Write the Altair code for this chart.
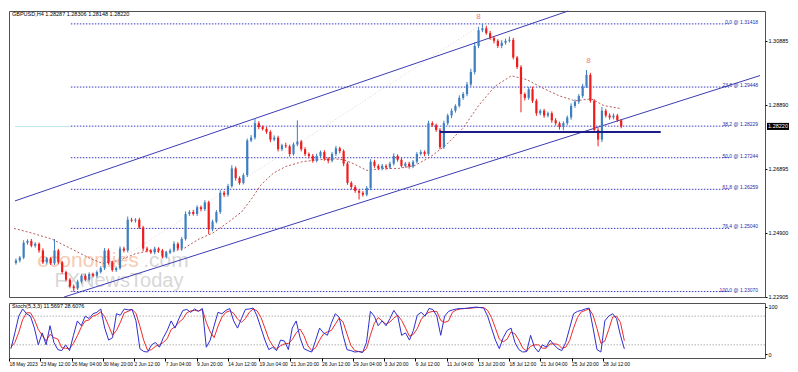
import json
import altair as alt
import pandas as pd

# ---------------- data ----------------
closes = [1.2404, 1.2413, 1.2459, 1.2465, 1.2450, 1.2456, 1.2435, 1.2398, 1.2410, 1.2395,
          1.2435, 1.2398, 1.2368, 1.2344, 1.2323, 1.2317, 1.2338, 1.2356, 1.2344, 1.2362,
          1.2356, 1.2368, 1.2380, 1.2435, 1.2398, 1.2374, 1.2380, 1.2441, 1.2435, 1.2531,
          1.2528, 1.2531, 1.2507, 1.2441, 1.2435, 1.2429, 1.2441, 1.2435, 1.2416, 1.2429,
          1.2435, 1.2456, 1.2441, 1.2471, 1.2549, 1.2555, 1.2549, 1.2570, 1.2564, 1.2585,
          1.2501, 1.2525, 1.2555, 1.2615, 1.2609, 1.2636, 1.2691, 1.2661, 1.2646, 1.2670,
          1.2778, 1.2787, 1.2832, 1.2820, 1.2814, 1.2805, 1.2781, 1.2787, 1.2751, 1.2763,
          1.2760, 1.2736, 1.2766, 1.2775, 1.2751, 1.2736, 1.2730, 1.2715, 1.2730, 1.2742,
          1.2721, 1.2715, 1.2736, 1.2754, 1.2745, 1.2706, 1.2646, 1.2633, 1.2621, 1.2615,
          1.2609, 1.2630, 1.2712, 1.2699, 1.2691, 1.2699, 1.2694, 1.2706, 1.2730, 1.2718,
          1.2699, 1.2706, 1.2697, 1.2712, 1.2736, 1.2742, 1.2736, 1.2832, 1.2826, 1.2811,
          1.2757, 1.2832, 1.2856, 1.2871, 1.2886, 1.2911, 1.2923, 1.2953, 1.2992, 1.3073,
          1.3122, 1.3128, 1.3113, 1.3098, 1.3089, 1.3073, 1.3083, 1.3089, 1.3092, 1.3037,
          1.3007, 1.2923, 1.2911, 1.2938, 1.2902, 1.2863, 1.2871, 1.2856, 1.2863, 1.2841,
          1.2832, 1.2820, 1.2832, 1.2850, 1.2886, 1.2899, 1.2917, 1.2947, 1.2983, 1.2902,
          1.2811, 1.2781, 1.2871, 1.2856, 1.2850, 1.2856, 1.2841, 1.2822]
first_open = 1.2396
up_wick_pips = [6, 5, 8, 5, 6, 5, 4, 7, 5, 5, 36, 5, 4, 4, 5, 6, 6, 5, 7, 5,
                4, 5, 6, 8, 6, 5, 5, 7, 6, 10, 6, 5, 6, 5, 6, 5, 6, 4, 5, 5,
                6, 8, 5, 6, 8, 6, 7, 6, 5, 7, 5, 6, 6, 8, 6, 7, 10, 6, 5, 6,
                6, 8, 15, 6, 5, 6, 5, 7, 6, 5, 8, 5, 6, 66, 5, 6, 5, 6, 7, 5,
                6, 5, 6, 7, 5, 5, 6, 5, 6, 5, 5, 6, 8, 6, 5, 6, 5, 6, 8, 5,
                6, 5, 6, 5, 6, 7, 5, 8, 6, 5, 6, 8, 6, 7, 5, 8, 6, 8, 10, 12,
                10, 14, 8, 7, 6, 5, 8, 7, 10, 6, 5, 6, 5, 7, 8, 6, 5, 6, 5, 6,
                7, 5, 6, 6, 8, 7, 6, 8, 15, 6, 5, 6, 12, 6, 7, 6, 5, 4]
dn_wick_pips = [5, 6, 5, 6, 5, 6, 7, 5, 6, 5, 5, 6, 5, 6, 6, 10, 5, 6, 5, 6,
                5, 6, 5, 6, 7, 5, 6, 5, 6, 6, 5, 6, 5, 8, 6, 5, 6, 7, 5, 6,
                5, 6, 5, 7, 5, 6, 5, 6, 7, 6, 15, 6, 5, 6, 7, 6, 5, 8, 6, 5,
                6, 5, 6, 7, 5, 6, 8, 5, 7, 6, 6, 8, 5, 6, 7, 6, 8, 6, 5, 7,
                6, 8, 5, 6, 7, 8, 6, 8, 6, 21, 6, 5, 7, 6, 5, 6, 7, 5, 6, 6,
                5, 6, 7, 5, 6, 5, 7, 6, 5, 6, 6, 5, 6, 8, 6, 5, 6, 7, 6, 8,
                7, 6, 5, 6, 8, 6, 7, 6, 5, 6, 6, 57, 8, 6, 7, 8, 6, 7, 6, 8,
                7, 8, 10, 6, 7, 6, 7, 6, 5, 6, 6, 21, 8, 6, 7, 6, 5, 6]

ma_bar = [0, 9.5, 19.5, 29.5, 39.5, 46, 54.5, 63, 71, 79.5, 88, 96, 103, 109.5, 118, 123, 128,
          134.5, 141, 149.5, 158, 166, 171, 176, 183, 191, 199.5, 208, 216, 224.5, 233, 241,
          249.5, 258, 266, 274.5, 283, 291, 299.5, 306, 314.5]
ma_price = [1.2504, 1.2489, 1.2471, 1.2441, 1.2410, 1.2395, 1.2404, 1.2425, 1.2435, 1.2429,
            1.2441, 1.2471, 1.2489, 1.2516, 1.2555, 1.2594, 1.2639, 1.2676, 1.2697, 1.2712,
            1.2718, 1.2721, 1.2718, 1.2706, 1.2685, 1.2691, 1.2691, 1.2700, 1.2727, 1.2766,
            1.2817, 1.2887, 1.2947, 1.2980, 1.2968, 1.2941, 1.2917, 1.2902, 1.2908, 1.2887,
            1.2878]

fib_levels = ["0.0", "23.6", "38.2", "50.0", "61.8", "76.4", "100.0"]
fib_prices = [1.31418, 1.29448, 1.28229, 1.27244, 1.26259, 1.25040, 1.23070]

price_ticks = [1.31380, 1.30885, 1.30375, 1.29880, 1.29385, 1.28890, 1.28380, 1.27885,
               1.27390, 1.26895, 1.26385, 1.25890, 1.25395, 1.24900, 1.24390, 1.23895,
               1.23400, 1.22905]

date_labels = ["18 May 2023", "23 May 12:00", "26 May 04:00", "30 May 20:00", "2 Jun 12:00",
               "7 Jun 04:00", "9 Jun 20:00", "14 Jun 12:00", "19 Jun 04:00", "21 Jun 20:00",
               "26 Jun 12:00", "29 Jun 04:00", "3 Jul 20:00", "6 Jul 12:00", "11 Jul 04:00",
               "13 Jul 20:00", "18 Jul 12:00", "21 Jul 04:00", "25 Jul 20:00", "28 Jul 12:00"]
date_ticks = [16 * i for i in range(len(date_labels))]

# stochastic %K and %D, one value per candle
stoch_k = [12, 45, 80, 95, 85, 80, 55, 20, 45, 20,
           60, 25, 10, 8, 20, 8, 40, 70, 60, 80,
           75, 85, 88, 95, 55, 30, 35, 85, 82, 95,
           93, 94, 70, 12, 6, 5, 20, 25, 15, 35,
           50, 70, 55, 75, 92, 94, 88, 95, 90, 96,
           15, 30, 60, 88, 85, 92, 96, 70, 55, 75,
           94, 95, 97, 80, 55, 30, 10, 15, 8, 30,
           28, 10, 55, 70, 35, 12, 8, 5, 30, 55,
           45, 40, 65, 85, 78, 40, 10, 8, 5, 6,
           4, 25, 90, 80, 60, 70, 60, 75, 92, 80,
           40, 45, 30, 50, 82, 88, 80, 96, 94, 80,
           40, 80, 90, 93, 95, 96, 96, 97, 98, 99,
           98, 97, 80, 55, 30, 12, 35, 50, 55, 25,
           10, 5, 6, 40, 15, 5, 20, 15, 30, 20,
           12, 8, 25, 55, 85, 90, 92, 95, 97, 55,
           10, 5, 70, 80, 85, 75, 40, 11.57]
stoch_d = [15, 25, 46, 73, 87, 87, 73, 52, 40, 28,
           42, 35, 32, 14, 13, 12, 23, 39, 57, 70,
           72, 80, 83, 89, 79, 60, 40, 50, 67, 87,
           90, 94, 86, 59, 29, 8, 10, 17, 20, 25,
           33, 52, 58, 67, 74, 87, 91, 92, 91, 94,
           67, 47, 35, 59, 78, 88, 91, 86, 74, 67,
           75, 88, 95, 91, 77, 55, 32, 18, 11, 18,
           22, 23, 31, 45, 53, 39, 18, 8, 14, 30,
           43, 47, 50, 63, 76, 68, 43, 19, 8, 6,
           5, 12, 40, 65, 77, 70, 63, 68, 76, 82,
           71, 55, 38, 42, 54, 73, 83, 88, 90, 90,
           71, 67, 70, 88, 93, 95, 96, 96, 97, 98,
           98, 98, 92, 77, 55, 32, 26, 32, 47, 43,
           30, 13, 7, 17, 20, 20, 13, 13, 22, 22,
           21, 13, 15, 29, 55, 77, 89, 92, 95, 82,
           54, 23, 28, 52, 78, 80, 67, 28.61]

upper_channel_bar = [0.5, 287.5]
upper_channel_price = [1.25897, 1.3182]
lower_channel_bar = [26, 387]
lower_channel_price = [1.2290, 1.29806]
fib_diag_bar = [29.5, 243]
fib_diag_price = [1.23070, 1.31418]
support_bar = [221, 335.5]
support_price = 1.2805
last_price = 1.28220
marker_bar = [241, 298]
marker_price = [1.3164, 1.3025]

# ---------------- layout ----------------
W = 756
H1 = 286
H2 = 55
XDOM = [0, 387]
PDOM = [1.2290, 1.3182]
FONT = "Liberation Sans"

opens = [first_open] + closes[:-1]
bars = [1 + 2 * i for i in range(len(closes))]
candles = pd.DataFrame({"bar": bars, "open": opens, "close": closes})
candles["high"] = [max(o, c) + u / 10000 for o, c, u in zip(opens, closes, up_wick_pips)]
candles["low"] = [min(o, c) - d / 10000 for o, c, d in zip(opens, closes, dn_wick_pips)]
candles["dir"] = ["up" if c >= o else "down" for o, c in zip(opens, closes)]

xs = alt.Scale(domain=XDOM, nice=False, zero=False)
ys = alt.Scale(domain=PDOM, nice=False, zero=False)
X = lambda f="bar": alt.X(f"{f}:Q", scale=xs, axis=None)
cscale = alt.Scale(domain=["up", "down"], range=["#3d7fc1", "#f01c1c"])

wicks = alt.Chart(candles).mark_rule(strokeWidth=1).encode(
    x=X(), y=alt.Y("low:Q", scale=ys, axis=alt.Axis(
        orient="right", values=price_ticks, format=".5f", tickSize=2, labelPadding=1,
        labelFontSize=5.5, labelFont=FONT, labelColor="#000", tickColor="#000",
        domain=False, grid=False, title=None, labelOverlap=False)),
    y2="high:Q", color=alt.Color("dir:N", scale=cscale, legend=None))
bodies = alt.Chart(candles).mark_bar(size=2.2).encode(
    x=X(), y=alt.Y("open:Q", scale=ys), y2="close:Q",
    color=alt.Color("dir:N", scale=cscale, legend=None))

fib_df = pd.DataFrame({"lvl": fib_levels, "price": fib_prices,
                       "x0": [29.5] * 7, "x1": [371] * 7, "xl": [386] * 7})
fib_df["label"] = [f"{l} @ {p:.5f}" for l, p in zip(fib_levels, fib_prices)]
fib_lines = alt.Chart(fib_df).mark_rule(color="#3a3ac4", strokeDash=[1.5, 1.5], strokeWidth=1).encode(
    x=X("x0"), x2="x1:Q", y=alt.Y("price:Q", scale=ys))
fib_text = alt.Chart(fib_df).mark_text(align="right", baseline="bottom", fontSize=5, font=FONT,
                                       color="#2a2aa8", dy=1).encode(
    x=X("xl"), y=alt.Y("price:Q", scale=ys), text="label:N")

def seg(bx, py, **kw):
    df = pd.DataFrame({"bar": bx, "price": py})
    return alt.Chart(df).mark_line(**kw).encode(x=X(), y=alt.Y("price:Q", scale=ys))

upper = seg(upper_channel_bar, upper_channel_price, color="#3c3cb4", strokeWidth=1)
lower = seg(lower_channel_bar, lower_channel_price, color="#3c3cb4", strokeWidth=1)
diag = seg(fib_diag_bar, fib_diag_price, color="#d9c9c9", strokeWidth=0.8, strokeDash=[1, 2])
support = seg(support_bar, [support_price] * 2, color="#1c1c88", strokeWidth=2)
bidline = seg([0.5, 29.5], [last_price] * 2, color="#bfe6f2", strokeWidth=1)
ma = seg(ma_bar, ma_price, color="#b04848", strokeWidth=0.9, strokeDash=[2, 2])

markers = alt.Chart(pd.DataFrame({"bar": marker_bar, "price": marker_price, "t": ["8", "8"]})).mark_text(
    fontSize=8, font=FONT, color="#f07878").encode(x=X(), y=alt.Y("price:Q", scale=ys), text="t:N")

def wm_text(bar, price, text, color, size):
    df = pd.DataFrame({"bar": [bar], "price": [price], "t": [text]})
    return alt.Chart(df).mark_text(align="left", baseline="alphabetic", fontSize=size, font=FONT,
                                   color=color, opacity=0.55).encode(
        x=X(), y=alt.Y("price:Q", scale=ys), text="t:N")

wm1 = wm_text(12, 1.2385, "economies", "#f5a070", 21)
wm2 = wm_text(67, 1.2385, ".com", "#b8b8b8", 21)
wm3 = wm_text(21, 1.2322, "FXNewsToday", "#b8b8b8", 20)

header = alt.Chart(pd.DataFrame({"t": ["GBPUSD,H4  1.28287 1.28306 1.28148 1.28220"]})).mark_text(
    align="left", baseline="top", fontSize=5.5, font=FONT, color="#000").encode(
    x=alt.value(3), y=alt.value(1), text="t:N")

box_path = "M-1,-0.32L1,-0.32L1,0.32L-1,0.32Z"
lastdf = pd.DataFrame({"price": [last_price], "t": [f"{last_price:.5f}"]})
last_box = alt.Chart(lastdf).mark_point(shape=box_path, filled=True, color="#000", opacity=1,
                                        size=484).encode(
    x=alt.value(W + 13), y=alt.Y("price:Q", scale=ys))
last_txt = alt.Chart(lastdf).mark_text(fontSize=5.5, font=FONT, color="#fff").encode(
    x=alt.value(W + 13), y=alt.Y("price:Q", scale=ys), text="t:N")

main = alt.layer(fib_lines, bidline, diag, wm1, wm2, wm3, upper, lower, ma, wicks, bodies, support,
                 fib_text, markers, header, last_box, last_txt).properties(width=W, height=H1)

# ---------------- stochastic ----------------
sdf = pd.DataFrame({"bar": bars, "k": stoch_k, "d": stoch_d})
ss = alt.Scale(domain=[-7.5, 107.5], nice=False, zero=False)
label_expr = json.dumps(date_labels) + "[round(datum.value/16)]"
sx = alt.X("bar:Q", scale=xs, axis=alt.Axis(
    orient="bottom", values=date_ticks, labelExpr=label_expr, tickSize=3, labelAlign="left",
    labelPadding=0, labelFontSize=4.9, labelFont=FONT, labelColor="#000", tickColor="#000",
    domain=False, grid=False, title=None, labelOverlap=False, labelFlush=False))
levels = alt.Chart(pd.DataFrame({"v": [80, 20]})).mark_rule(
    color="#b0b0b0", strokeDash=[1.5, 1.5], strokeWidth=1).encode(
    y=alt.Y("v:Q", scale=ss, axis=alt.Axis(
        orient="right", values=[0, 20, 80, 100], tickSize=2, labelPadding=1, labelFontSize=5.5,
        labelFont=FONT, labelColor="#000", tickColor="#000", domain=False, grid=False, title=None)))
kline = alt.Chart(sdf).mark_line(color="#2e2ed0", strokeWidth=1).encode(x=sx, y=alt.Y("k:Q", scale=ss))
dline = alt.Chart(sdf).mark_line(color="#f02a2a", strokeWidth=1).encode(x=sx, y=alt.Y("d:Q", scale=ss))
stitle = alt.Chart(pd.DataFrame({"t": ["Stoch(5,3,3) 11.5697 28.6076"]})).mark_text(
    align="left", baseline="top", fontSize=5.5, font=FONT, color="#000").encode(
    x=alt.value(3), y=alt.value(1), text="t:N")
stoch = alt.layer(levels, dline, kline, stitle).properties(width=W, height=H2)

chart = alt.vconcat(main, stoch, spacing=1).properties(
    padding={"left": 0, "top": 0, "right": 0, "bottom": 0}, background="#ffffff"
).configure_view(stroke="#505050", strokeWidth=1).configure_concat(spacing=1)

chart.save("out.html", embed_options={"renderer": "svg", "actions": False})
